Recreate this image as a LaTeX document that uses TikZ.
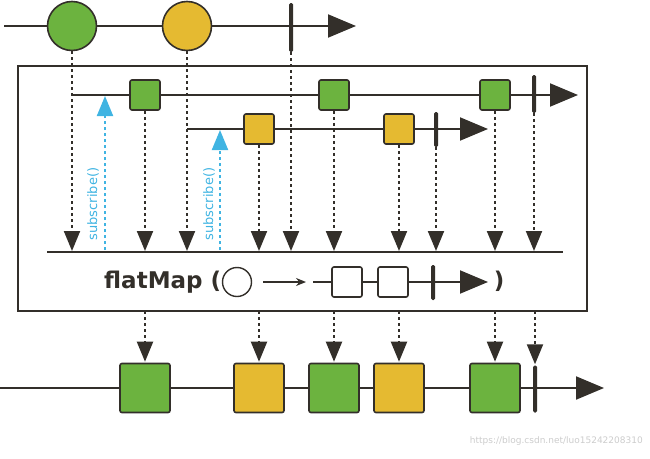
\documentclass[tikz,border=0pt]{standalone}
\usepackage{fontspec}
\setsansfont{DejaVu Sans}
\usetikzlibrary{arrows.meta}
\definecolor{mygreen}{RGB}{108,179,63}
\definecolor{myyellow}{RGB}{229,186,49}
\definecolor{myblue}{RGB}{64,180,226}
\definecolor{mydark}{RGB}{51,47,42}

\tikzset{
    marble/.style={circle, draw=mydark, line width=1.6pt, minimum size=49pt, inner sep=0pt},
    item/.style={rectangle, draw=mydark, line width=1.6pt, rounded corners=2pt, minimum size=30pt, inner sep=0pt},
    bigitem/.style={item, minimum width=50pt, minimum height=49pt},
    endbar/.style={rectangle, fill=mydark, rounded corners=1.5pt, minimum width=4pt, inner sep=0pt},
    stream/.style={draw=mydark, line width=2pt, -{Triangle[length=28pt,width=23pt]}},
    drop/.style={draw=mydark, line width=2pt, dash pattern=on 3pt off 3pt, shorten >=1pt, -{Triangle[length=20pt,width=16pt]}},
    subarrow/.style={draw=myblue, line width=2pt, dash pattern=on 3pt off 3pt, shorten >=1pt, -{Triangle[length=20pt,width=16pt]}},
    sublabel/.style={text=myblue, font=\sffamily\fontsize{13}{13}\selectfont, inner sep=0pt, rotate=90},
    oplabel/.style={text=mydark, font=\sffamily\bfseries\fontsize{23}{23}\selectfont, inner sep=0pt, anchor=base}
}

\begin{document}
\begin{tikzpicture}[x=1pt, y=-1pt]
    \useasboundingbox (0,0) rectangle (650,458);

    % Source stream
    \coordinate (srcL) at (4,26);
    \coordinate (srcR) at (356,26);
    \node[marble, fill=mygreen] (c1) at (72,26) {};
    \node[marble, fill=myyellow] (c2) at (187,26) {};
    \node[endbar, minimum height=49pt] (t0) at (291,27.5) {};
    \draw[stream] (srcL) -- (c1) -- (c2) -- (srcR);

    % Operator box
    \coordinate (boxNW) at (18,66);
    \coordinate (boxSE) at (587,311);
    \draw[mydark, line width=2.2pt] (boxNW) rectangle (boxSE);
    \coordinate (opL) at (47,252);
    \coordinate (opR) at (563,252);
    \draw[mydark, line width=2pt] (opL) -- (opR);

    % Inner stream of the green marble
    \begin{scope}
        \coordinate (in1L) at (72,95);
        \coordinate (in1R) at (578,95);
        \node[item, fill=mygreen] (g1) at (145,95) {};
        \node[item, fill=mygreen] (g2) at (334,95) {};
        \node[item, fill=mygreen] (g3) at (495,95) {};
        \node[endbar, minimum height=38pt] (t1) at (534,94) {};
        \draw[stream] (in1L) -- (g1) -- (g2) -- (g3) -- (in1R);
    \end{scope}

    % Inner stream of the yellow marble
    \begin{scope}
        \coordinate (in2L) at (187,129);
        \coordinate (in2R) at (488,129);
        \node[item, fill=myyellow] (y1) at (259,129) {};
        \node[item, fill=myyellow] (y2) at (399,129) {};
        \node[endbar, minimum height=35pt] (t2) at (436,129.5) {};
        \draw[stream] (in2L) -- (y1) -- (y2) -- (in2R);
    \end{scope}

    % Subscriptions
    \coordinate (s1) at (105,250);
    \coordinate (s2) at (220,250);
    \draw[subarrow] (s1) -- (s1 |- in1L);
    \draw[subarrow] (s2) -- (s2 |- in2L);
    \node[sublabel] (s1text) at (93,204) {subscribe()};
    \node[sublabel] (s2text) at (209,204) {subscribe()};

    % Drops onto the operator line
    \foreach \src in {c1, g1, c2, y1, t0, g2, y2, t2, g3, t1}
        \draw[drop] (\src.south) -- (\src |- opL);

    % Operator label
    \node[oplabel, anchor=base west] (fmlabel) at (104,288) {flatMap (};
    \node[circle, draw=mydark, line width=1.4pt, minimum size=29pt, inner sep=0pt] (fc) at (237,282) {};
    \coordinate (fa) at (263,282);
    \coordinate (fb) at (306,282);
    \draw[mydark, line width=1.3pt, -{Stealth[length=10pt,width=8pt]}] (fa) -- (fb);
    \coordinate (mL) at (313,282);
    \coordinate (mR) at (488,282);
    \node[item, fill=white] (m1) at (347,282) {};
    \node[item, fill=white] (m2) at (393,282) {};
    \node[endbar, minimum height=35pt] (mt) at (433,282.5) {};
    \draw[stream] (mL) -- (m1) -- (m2) -- (mR);
    \node[oplabel] (fmclose) at (499,288) {)};

    % Result stream
    \coordinate (resL) at (0,388);
    \coordinate (resR) at (604,388);
    \node[bigitem, fill=mygreen] (r1) at (145,388) {};
    \node[bigitem, fill=myyellow] (r2) at (259,388) {};
    \node[bigitem, fill=mygreen] (r3) at (334,388) {};
    \node[bigitem, fill=myyellow] (r4) at (399,388) {};
    \node[bigitem, fill=mygreen] (r5) at (495,388) {};
    \node[endbar, minimum height=47pt] (rt) at (535,389) {};
    \draw[stream] (resL) -- (r1) -- (r2) -- (r3) -- (r4) -- (r5) -- (resR);

    % Drops onto the result stream
    \foreach \dst in {r1, r2, r3, r4, r5, rt}
        \draw[drop] (\dst |- boxSE) -- (\dst.north);

    \node[text=black!20, font=\sffamily\fontsize{9}{9}\selectfont, anchor=east, inner sep=0pt] (mark) at (643,441) {https://blog.csdn.net/luo15242208310};
\end{tikzpicture}
\end{document}
